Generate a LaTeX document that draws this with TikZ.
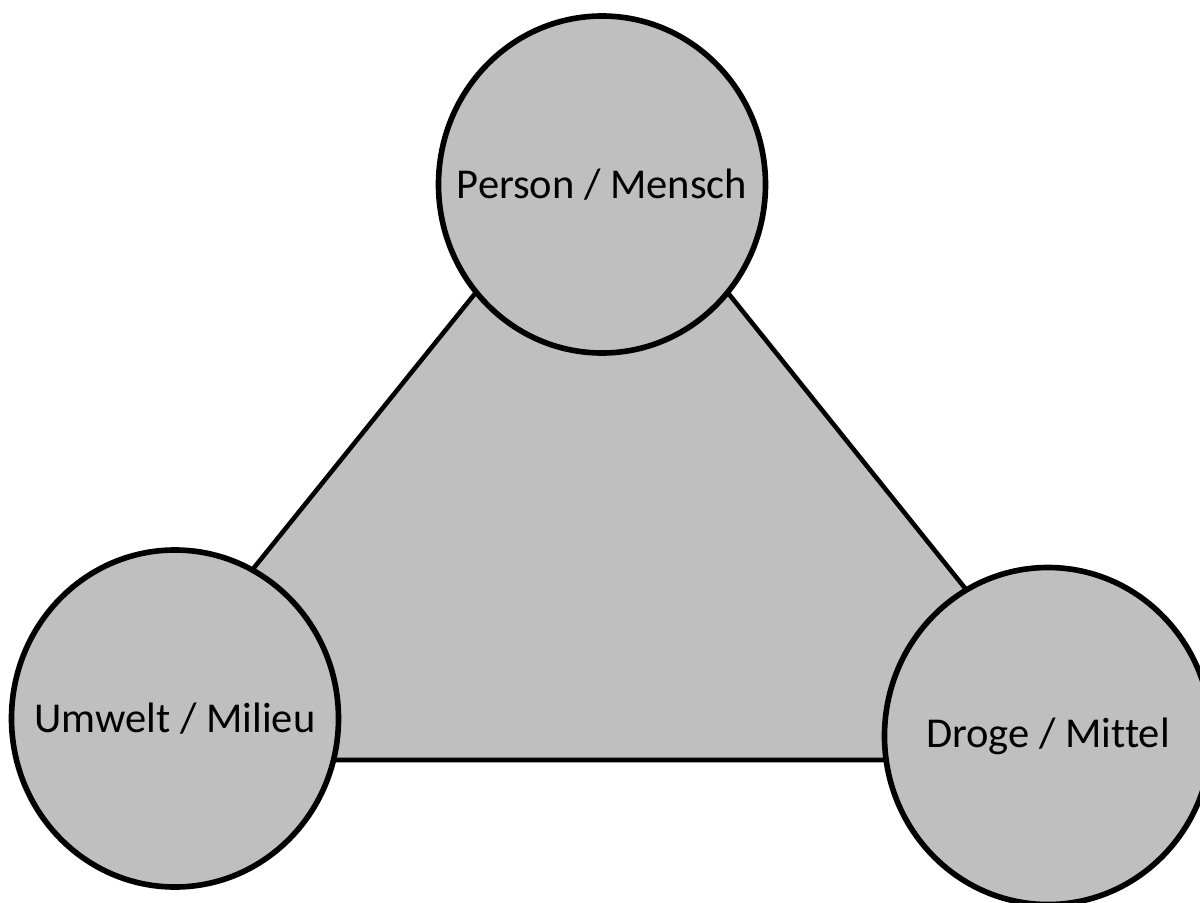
\documentclass[tikz,border=0pt]{standalone}
\usepackage{fontspec}
\setmainfont[Ligatures={NoCommon}]{Carlito}
\usetikzlibrary{shapes.geometric}

\tikzset{
	hub/.style={ellipse, draw=black, line width=1.6pt, fill=black!25,
		minimum width=3.27cm, minimum height=3.37cm, inner sep=0pt,
		font=\fontsize{12.1}{14}\selectfont},
	plane/.style={draw=black, line width=1.3pt, fill=black!25, line join=miter}
}

\begin{document}
\begin{tikzpicture}
			%%%%% START %%%%%
			\useasboundingbox (0, 0) rectangle (12, 9.02);
			
			\coordinate (baseL) at (0.99, 1.42);
			\coordinate (baseR) at (11.03, 1.42);
			\coordinate (apex) at (6.02, 7.66);
			\draw[plane] (baseL) -- (baseR) -- (apex) -- cycle;
			
			\node[hub] (person) at (6.02, 7.175) {\makebox[0pt]{Person / Mensch}};
			\node[hub] (umwelt) at (1.75, 1.835) {\makebox[0pt]{Umwelt / Milieu}};
			\node[hub] (droge) at (10.48, 1.66) {\makebox[0pt]{Droge / Mittel}};
			
			%%%%% END %%%%%
		\end{tikzpicture}
\end{document}
